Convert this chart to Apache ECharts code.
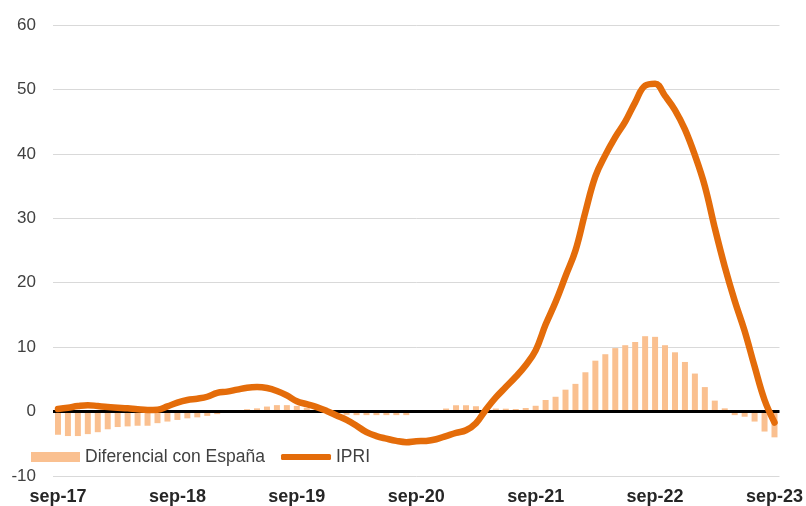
<!DOCTYPE html>
<html>
<head>
<meta charset="utf-8">
<script src="https://cdn.jsdelivr.net/npm/echarts@6/dist/echarts.min.js"></script>
<style>
  html, body { margin: 0; padding: 0; background: #ffffff; }
  #chart { width: 806px; height: 506px; }
</style>
</head>
<body>
<div id="chart"></div>
<script>
// Monthly categories, sep-17 .. sep-23
const months = [
  'sep-17','oct-17','nov-17','dic-17',
  'ene-18','feb-18','mar-18','abr-18','may-18','jun-18','jul-18','ago-18','sep-18','oct-18','nov-18','dic-18',
  'ene-19','feb-19','mar-19','abr-19','may-19','jun-19','jul-19','ago-19','sep-19','oct-19','nov-19','dic-19',
  'ene-20','feb-20','mar-20','abr-20','may-20','jun-20','jul-20','ago-20','sep-20','oct-20','nov-20','dic-20',
  'ene-21','feb-21','mar-21','abr-21','may-21','jun-21','jul-21','ago-21','sep-21','oct-21','nov-21','dic-21',
  'ene-22','feb-22','mar-22','abr-22','may-22','jun-22','jul-22','ago-22','sep-22','oct-22','nov-22','dic-22',
  'ene-23','feb-23','mar-23','abr-23','may-23','jun-23','jul-23','ago-23','sep-23'
];

// Differential vs Spain (percentage points)
const diferencial = [
  -3.6, -3.8, -3.8, -3.5, -3.2, -2.75, -2.4, -2.3, -2.2, -2.2, -1.8, -1.55, -1.3, -1.05, -0.9,
  -0.67, -0.4, -0.2, 0.1, 0.37, 0.5, 0.78, 1.0, 1.0, 0.88, 0.6, 0.3, 0.1, -0.2,
  -0.5, -0.55, -0.55, -0.55, -0.55, -0.55, -0.55, 0.05, 0.05, 0.1,
  0.47, 0.98, 0.98, 0.83, 0.6, 0.47, 0.45, 0.4, 0.55, 0.9,
  1.8, 2.3, 3.4, 4.3, 6.1, 7.9, 8.9, 9.85, 10.3, 10.8, 11.7, 11.6, 10.3, 9.2,
  7.7, 5.9, 3.8, 1.7, 0.5, -0.55, -0.8, -1.55, -3.1, -4.0
];

// IPRI year-on-year rate (%)
const ipri = [
  0.4, 0.6, 0.85, 1.0, 0.85, 0.7, 0.6, 0.5, 0.35, 0.25, 0.3, 0.8, 1.4, 1.8, 2.0,
  2.3, 2.9, 3.1, 3.4, 3.7, 3.8, 3.65, 3.2, 2.5, 1.6, 1.15, 0.7, 0.1, -0.6,
  -1.3, -2.2, -3.2, -3.8, -4.2, -4.55, -4.75, -4.6, -4.55, -4.3,
  -3.8, -3.3, -2.9, -1.8, 0.3, 2.2, 3.8, 5.4, 7.2, 9.5,
  13.5, 17.0, 21.0, 25.0, 31.0, 36.5, 39.8, 42.6, 45.0, 48.0, 50.6, 50.9, 49.0, 46.8,
  43.8, 39.8, 35.0, 28.5, 22.5, 17.2, 12.5, 7.0, 1.8, -1.7
];

const yTicks = { min: -10, max: 60, step: 10 };

const FONT = 'Liberation Sans, Arial, Helvetica, sans-serif';
const BAR_COLOR = '#FAC090';
const LINE_COLOR = '#E46C0A';

const chart = echarts.init(document.getElementById('chart'), null, { renderer: 'canvas' });

chart.setOption({
  animation: false,
  backgroundColor: '#ffffff',
  grid: { left: 53, right: 25, top: 25, bottom: 30, containLabel: false },
  legend: [
    {
      data: ['Diferencial con España'],
      left: 31, top: 448, padding: 0,
      icon: 'rect',
      itemWidth: 49, itemHeight: 10,
      textStyle: { fontFamily: FONT, fontSize: 17.5, color: '#404040' }
    },
    {
      data: ['IPRI'],
      left: 281, top: 448, padding: 0,
      icon: 'roundRect',
      itemWidth: 50, itemHeight: 6,
      textStyle: { fontFamily: FONT, fontSize: 17.5, color: '#404040' }
    }
  ],
  xAxis: {
    type: 'category',
    data: months,
    boundaryGap: true,
    axisLine: { show: false, onZero: false },
    axisTick: { show: false },
    splitLine: { show: false },
    axisLabel: {
      interval: 11,
      margin: 12,
      fontFamily: FONT,
      fontSize: 18,
      fontWeight: 'bold',
      color: '#262626'
    }
  },
  yAxis: {
    type: 'value',
    min: yTicks.min,
    max: yTicks.max,
    interval: yTicks.step,
    axisLine: { show: false },
    axisTick: { show: false },
    splitLine: { lineStyle: { color: '#d9d9d9', width: 1 } },
    axisLabel: {
      margin: 17,
      fontFamily: FONT,
      fontSize: 17,
      color: '#404040'
    }
  },
  series: [
    {
      name: 'Diferencial con España',
      type: 'bar',
      data: diferencial,
      barWidth: 6,
      itemStyle: { color: BAR_COLOR },
      z: 2,
      markLine: {
        silent: true,
        symbol: 'none',
        label: { show: false },
        lineStyle: { color: '#000000', width: 3, type: 'solid' },
        data: [{ yAxis: 0 }]
      }
    },
    {
      name: 'IPRI',
      type: 'line',
      data: ipri,
      smooth: 0.4,
      showSymbol: false,
      symbol: 'none',
      lineStyle: { color: LINE_COLOR, width: 6.5, cap: 'round', join: 'round' },
      itemStyle: { color: LINE_COLOR },
      z: 5
    }
  ]
});
</script>
</body>
</html>
